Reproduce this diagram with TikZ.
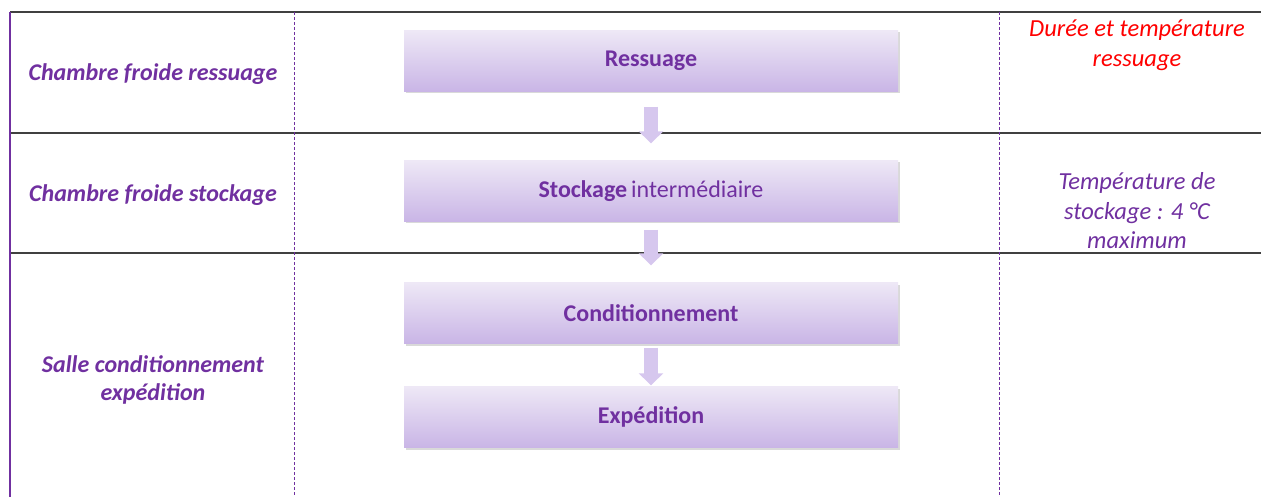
\documentclass[tikz,border=0pt]{standalone}
\usepackage{fontspec}
\setmainfont{Carlito}
\usepackage{xcolor}
\usetikzlibrary{shadows,arrows.meta}
\definecolor{violet1}{HTML}{7030A0}
\definecolor{lavtop}{HTML}{EEE8F6}
\definecolor{lavbot}{HTML}{C9B5E6}
\definecolor{lavarrow}{HTML}{D6C7EE}
\definecolor{grisligne}{HTML}{404040}

\begin{document}
\begin{tikzpicture}[x=1pt,y=-1pt,
    etape/.style={rectangle, minimum width=494pt, minimum height=61pt,
        top color=lavtop, bottom color=lavbot, text=violet1,
        drop shadow={shadow xshift=2pt,shadow yshift=-2pt,opacity=0.3},
        font=\fontsize{24}{28}\selectfont\bfseries},
    lieu/.style={text=violet1, align=center, font=\fontsize{24}{28}\selectfont\bfseries\itshape},
    note/.style={align=center, font=\fontsize{24.5}{29.5}\selectfont\itshape},
    fleche/.style={draw=lavarrow, line width=14pt, -{Triangle[width=24pt,length=12pt]}},
    % every node/.style={draw}
]
    \useasboundingbox (0,0) rectangle (1261,497);

    % grille du tableau
    \draw[grisligne, line width=1.6pt] (10,12) -- (1261,12);
    \draw[grisligne, line width=1.6pt] (10,133) -- (1261,133);
    \draw[grisligne, line width=1.6pt] (10,253) -- (1261,253);
    \draw[violet1, line width=1.2pt] (10,12) -- (10,497);
    \draw[violet1, dash pattern=on 3pt off 2pt, line width=1pt] (294,12) -- (294,497);
    \draw[violet1, dash pattern=on 3pt off 2pt, line width=1pt] (999,12) -- (999,497);

    % etapes
    \node[etape] (res) at (651,61) {Ressuage};
    \node[etape] (sto) at (651,191) {Stockage\,\mdseries intermédiaire};
    \node[etape] (cond) at (651,313) {Conditionnement};
    \node[etape] (exp) at (651,417) {Expédition};

    \draw[fleche] ([yshift=-15pt]res.south) -- ([yshift=17pt]sto.north);
    \draw[fleche] ([yshift=-8pt]sto.south) -- ([yshift=17pt]cond.north);
    \draw[fleche] ([yshift=-4pt]cond.south) -- ([yshift=1pt]exp.north);

    % lieux
    \node[lieu] (lres) at (153,74) {Chambre froide ressuage};
    \node[lieu] (lsto) at (153,195) {Chambre froide stockage};
    \node[lieu] (lsal) at (153,380) {Salle conditionnement\\expédition};

    % points de controle
    \node[note, text=red] (nres) at (1137,45) {Durée et température\\ressuage};
    \node[note, text=violet1] (nsto) at (1137,211) {Température de\\stockage : 4 °C\\maximum};
\end{tikzpicture}
\end{document}
